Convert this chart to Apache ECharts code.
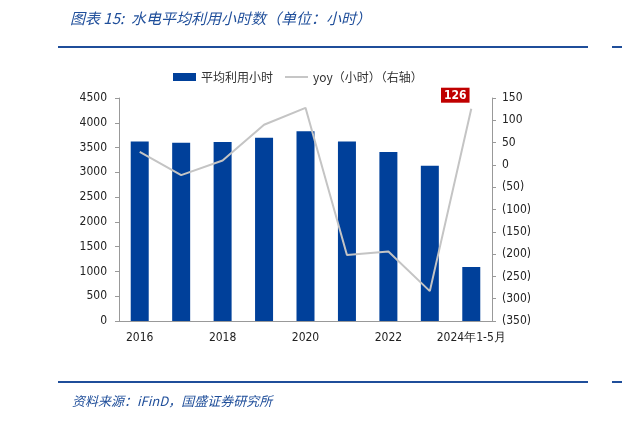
<!DOCTYPE html>
<html>
<head>
<meta charset="utf-8">
<script src="https://cdn.jsdelivr.net/npm/echarts@6/dist/echarts.min.js"></script>
<style>
html,body{margin:0;padding:0;background:#fff;}
#c{width:622px;height:422px;}
</style>
</head>
<body>
<div id="c"></div>
<script>
var categories = ['2016','2017','2018','2019','2020','2021','2022','2023','2024年1-5月'];
var hours = [3621, 3597, 3613, 3697, 3827, 3622, 3412, 3133, 1090];
var yoy = [29, -23, 10, 90, 128, -202, -194, -283, 126];
var leftTicks = {min: 0, max: 4500, interval: 500};
var rightTicks = {min: -350, max: 150, interval: 50};

var blue = '#00409A';
var cjk = '"Noto Sans CJK SC", sans-serif';
var num = '"DejaVu Sans Condensed", "DejaVu Sans", Verdana, sans-serif';

var chart = echarts.init(document.getElementById('c'), null, {renderer: 'canvas'});
chart.setOption({
  animation: false,
  backgroundColor: '#fff',
  grid: {left: 119, right: 130, top: 98, bottom: 101, containLabel: false},
  legend: {
    left: 173, top: 71, padding: 0, itemWidth: 23, itemHeight: 8, itemGap: 12,
    textStyle: {fontFamily: cjk, fontSize: 12, color: '#333'},
    data: [{name: '平均利用小时', icon: 'rect'},
           {name: 'yoy（小时）（右轴）', icon: 'path://M0,0L24,0L24,2L0,2Z', itemStyle: {color: '#C4C4C4'}}]
  },
  xAxis: {
    type: 'category', data: categories,
    axisLine: {lineStyle: {color: '#999', width: 1}},
    axisTick: {inside: true, length: 4, lineStyle: {color: '#999'}},
    axisLabel: {interval: 1, color: '#222', fontFamily: num, fontSize: 12, margin: 11}
  },
  yAxis: [{
    type: 'value', min: leftTicks.min, max: leftTicks.max, interval: leftTicks.interval,
    splitLine: {show: false},
    axisLine: {show: true, lineStyle: {color: '#999'}},
    axisTick: {show: true, length: 4, lineStyle: {color: '#999'}},
    axisLabel: {color: '#222', fontFamily: num, fontSize: 12, margin: 12,
      formatter: function(v){ return String(v); }}
  }, {
    type: 'value', min: rightTicks.min, max: rightTicks.max, interval: rightTicks.interval,
    position: 'right',
    splitLine: {show: false},
    axisLine: {show: true, lineStyle: {color: '#999'}},
    axisTick: {show: true, length: 4, lineStyle: {color: '#999'}},
    axisLabel: {color: '#222', fontFamily: num, fontSize: 12, margin: 10,
      formatter: function(v){ return v < 0 ? '(' + (-v) + ')' : String(v); }}
  }],
  series: [{
    name: '平均利用小时', type: 'bar', data: hours, barWidth: 18,
    itemStyle: {color: blue}
  }, {
    name: 'yoy（小时）（右轴）', type: 'line', yAxisIndex: 1,
    symbol: 'circle', symbolSize: 0, showSymbol: true,
    data: yoy.map(function(v, i){
      if (i === yoy.length - 1) {
        return {value: v, label: {show: true, position: 'top', offset: [-16, -1],
          backgroundColor: '#C00000', color: '#fff', fontWeight: 'bold', fontFamily: num,
          fontSize: 12, padding: [2, 3, 1, 3]}};
      }
      return v;
    }),
    lineStyle: {color: '#C4C4C4', width: 2}, itemStyle: {color: '#C4C4C4'}
  }],
  graphic: [
    {type: 'text', left: 70, top: 11, style: {text: '图表 15:  水电平均利用小时数（单位：小时）',
      font: 'italic 15px ' + cjk, fill: '#1F4E9A'}},
    {type: 'rect', shape: {x: 58, y: 46, width: 530, height: 2}, style: {fill: '#1F4E9A'}},
    {type: 'rect', shape: {x: 612, y: 46, width: 10, height: 2}, style: {fill: '#1F4E9A'}},
    {type: 'rect', shape: {x: 58, y: 381, width: 530, height: 2}, style: {fill: '#1F4E9A'}},
    {type: 'rect', shape: {x: 612, y: 381, width: 10, height: 2}, style: {fill: '#1F4E9A'}},
    {type: 'text', left: 72, top: 395, style: {text: '资料来源：iFinD，国盛证券研究所',
      font: 'italic 13px ' + cjk, fill: '#1F4E9A'}}
  ]
});
</script>
</body>
</html>
